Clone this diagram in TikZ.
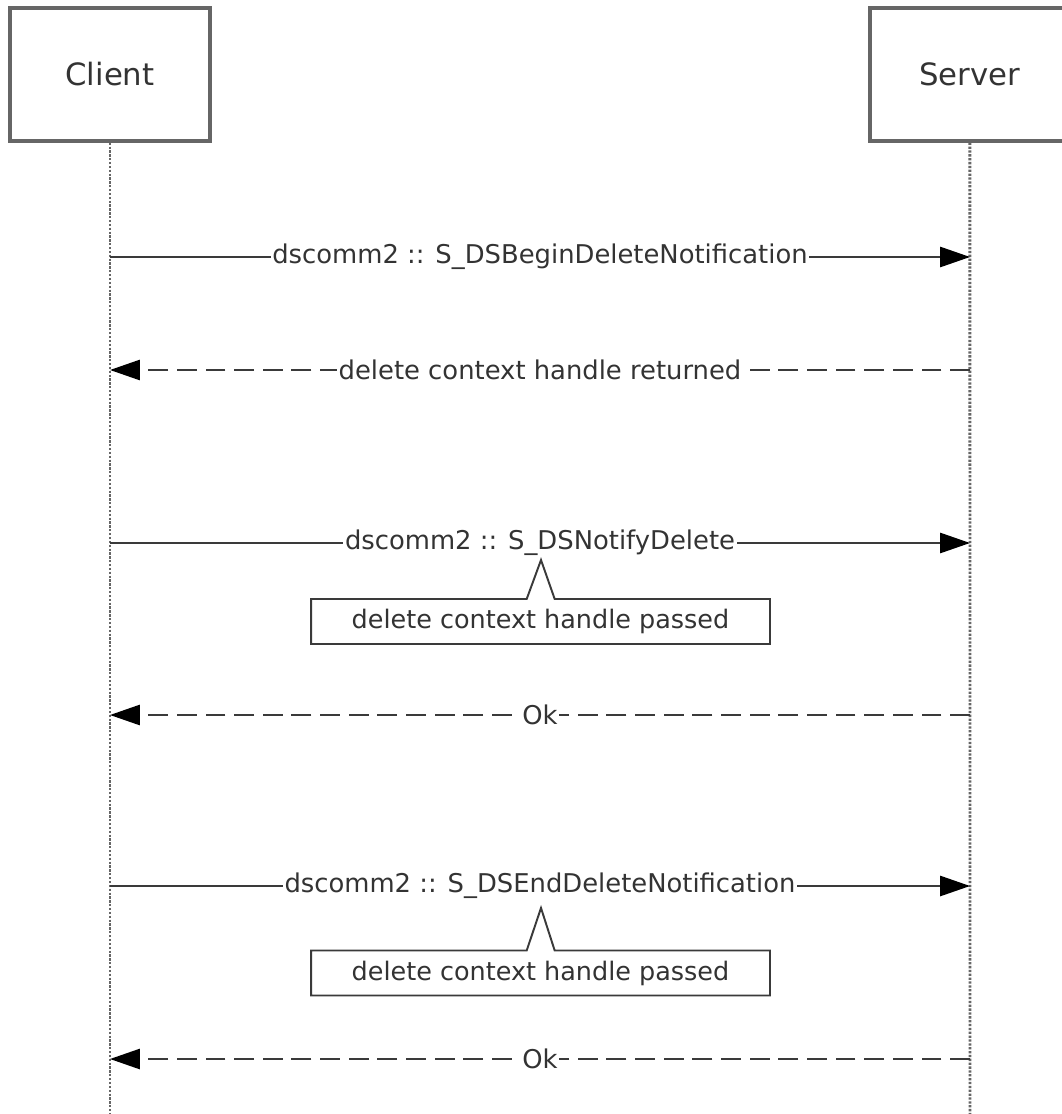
\documentclass[tikz,border=0pt]{standalone}
\usepackage{fontspec}
\setmainfont{DejaVu Sans}
\usetikzlibrary{arrows.meta,positioning,shapes.callouts}
\definecolor{boxgray}{HTML}{666666}
\definecolor{linegray}{HTML}{3A3A3A}
\definecolor{textgray}{HTML}{333333}
\tikzset{
  actor/.style={draw=boxgray, line width=1.9pt, minimum width=4cm, minimum height=2.66cm,
    text=textgray, font=\fontsize{17.5}{21}\selectfont},
  life/.style={draw=boxgray, line width=1.6pt, dash pattern=on 1.3pt off 0.9pt},
  call/.style={draw=linegray, line width=1.1pt, -{Triangle[length=17pt,width=11.5pt,color=black]}},
  ret/.style={call, dash pattern=on 11.3pt off 5pt},
  msglabel/.style={fill=white, inner sep=1pt, text=textgray, font=\fontsize{14.7}{17}\selectfont},
  note/.style={rectangle callout, draw=linegray, line width=1.1pt, fill=white, text=textgray,
    minimum width=9.18cm, minimum height=0.9cm, inner sep=0pt, callout pointer width=0.56cm,
    font=\fontsize{14.5}{17}\selectfont}
}
\begin{document}
\begin{tikzpicture}[x=0.02cm, y=-0.02cm, node distance=17.2cm]
\useasboundingbox (0,0) rectangle (1061,1114);
\node[actor] (client) at (110,74.5) {Client};
\node[actor] (server) [right of=client] {Server};
\coordinate (cend) at (110,1114);
\coordinate (send) at (970,1114);
\draw[life] (client.south) -- (cend);
\draw[life] (server.south) -- (send);
% message levels on the two lifelines
\foreach \n/\y in {1/257, 2/370, 3/543, 4/715, 5/886, 6/1059} {
  \coordinate (c\n) at (110,\y);
  \coordinate (s\n) at (970,\y);
}
\draw[call] (c1) -- node[msglabel] (m1) {dscomm2 :: S\_DSBeginDeleteNotification} (s1);
\draw[ret] (s2) -- node[msglabel] (m2) {delete context handle returned} (c2);
\draw[call] (c3) -- node[msglabel] (m3) {dscomm2 :: S\_DSNotifyDelete} (s3);
\node[note, callout absolute pointer={(541,560)}] (n1) at (540.5,621.5) {delete context handle passed};
\draw[ret] (s4) -- node[msglabel] (m4) {Ok} (c4);
\draw[call] (c5) -- node[msglabel] (m5) {dscomm2 :: S\_DSEndDeleteNotification} (s5);
\node[note, callout absolute pointer={(541,908)}] (n2) at (540.5,973) {delete context handle passed};
\draw[ret] (s6) -- node[msglabel] (m6) {Ok} (c6);
\end{tikzpicture}
\end{document}
